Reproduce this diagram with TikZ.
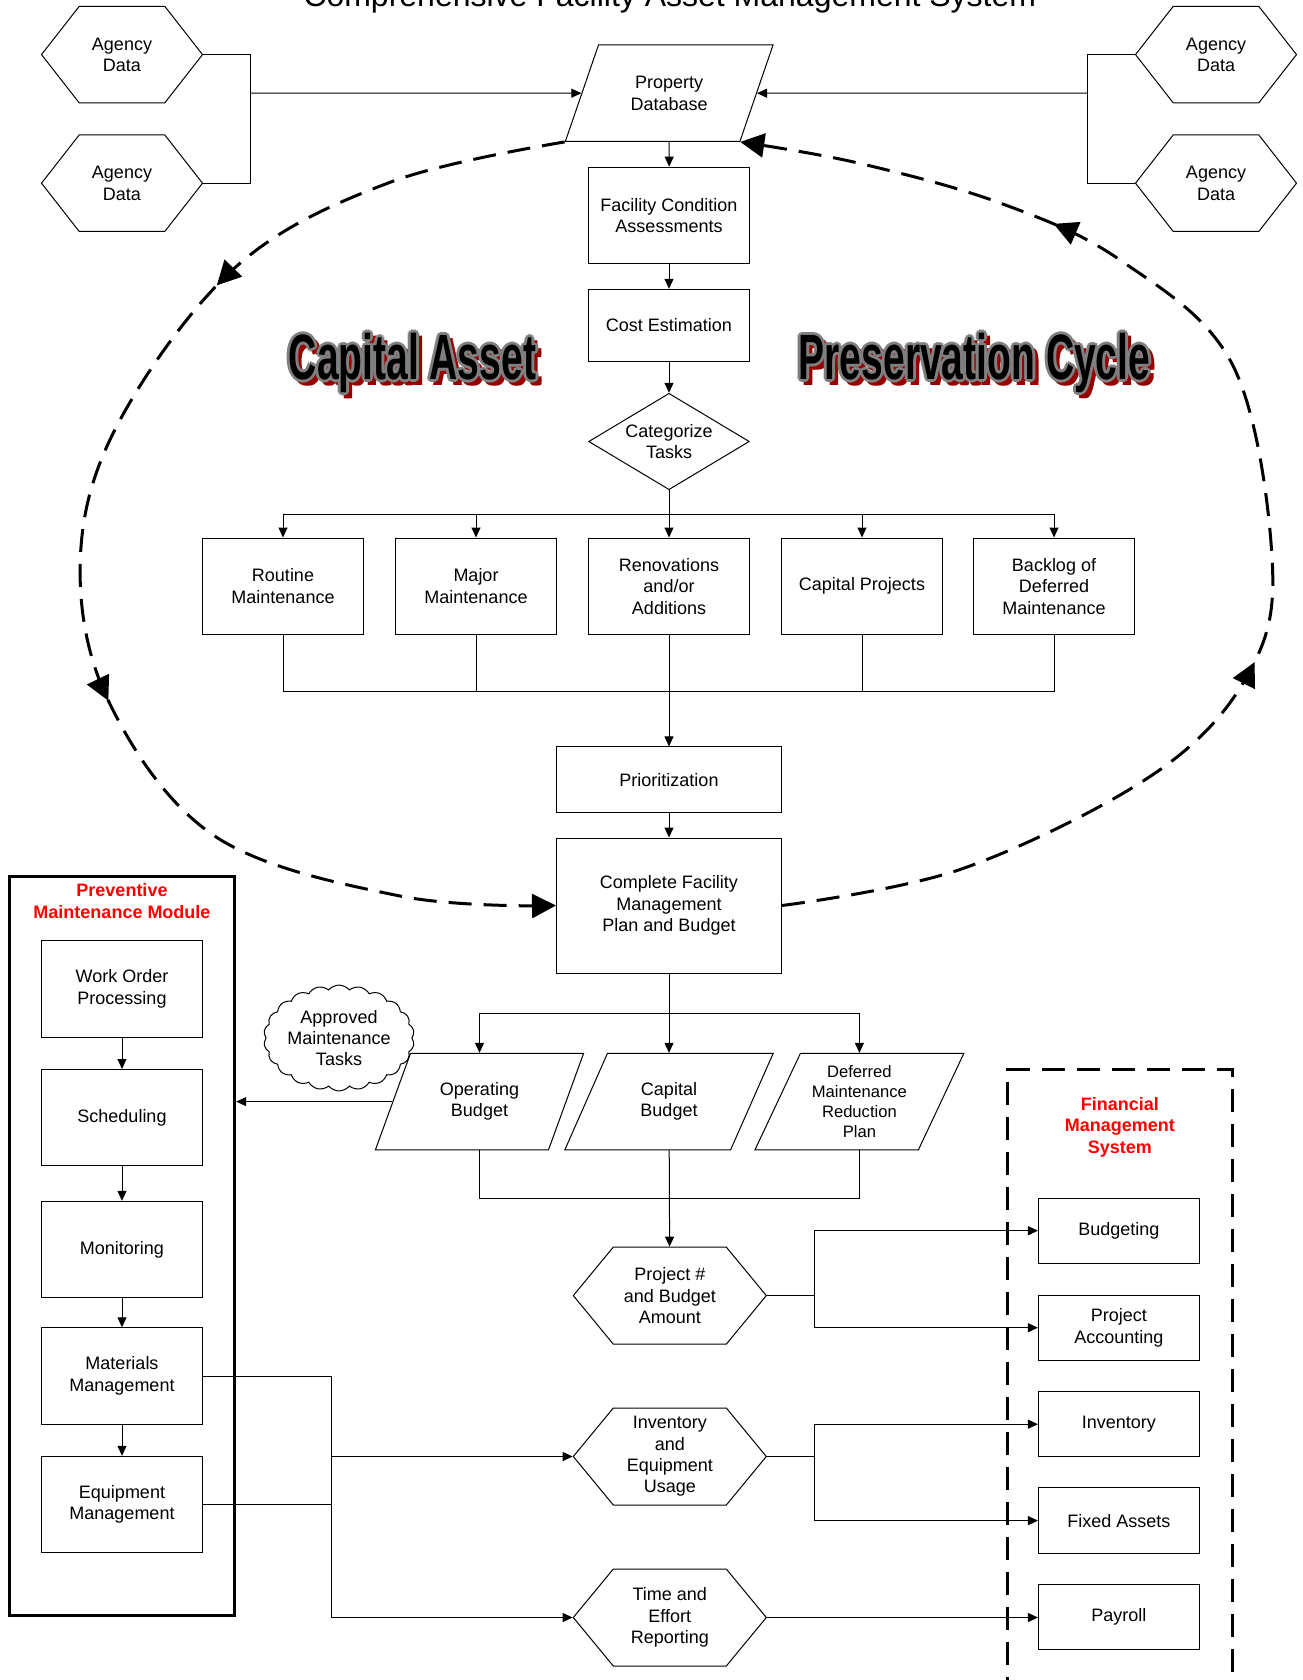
\documentclass[tikz,border=0pt]{standalone}
\usepackage{fontspec}
\setmainfont{Liberation Sans}
\usepackage{graphicx}
\usetikzlibrary{arrows.meta,shapes.geometric,shapes.symbols,decorations.markings}

\definecolor{fmsred}{RGB}{255,0,0}
\definecolor{shadowred}{RGB}{150,0,0}
\definecolor{outlinegray}{RGB}{128,128,128}

\newcommand{\boxfont}{\fontsize{9}{10.7}\selectfont}
\newcommand{\cycfont}{\fontsize{32}{36}\selectfont\bfseries}

% cycle title: red shadow, grey outline, black letters
\newcommand{\cyctitle}[3]{%
  \foreach \dx/\dy in {1.5/-3,3/-1.5,3/-3}
    \node[cyclabel, text=shadowred, xshift=\dx pt, yshift=\dy pt] at (#2) {\scalebox{0.61}[1]{#3}};
  \foreach \dx/\dy in {-1.5/0,1.5/0,0/1.5,0/-1.5,-1/-1,1/1,-1/1,1/-1}
    \node[cyclabel, text=outlinegray, xshift=\dx pt, yshift=\dy pt] at (#2) {\scalebox{0.61}[1]{#3}};
  \node[cyclabel] (#1) at (#2) {\scalebox{0.61}[1]{#3}};}

\begin{document}
\begin{tikzpicture}[x=0.5pt, y=-0.5pt, font=\boxfont, line width=0.5pt,
    arr/.style={-{Triangle[length=5pt,width=4.5pt]}},
    procbox/.style={draw, rectangle, minimum width=80.35pt, minimum height=48.2pt, align=center, inner sep=1pt},
    finbox/.style={procbox, minimum height=32.7pt},
    widebox/.style={procbox, minimum width=112.5pt},
    hexbox/.style={draw, signal, signal to=west and east, signal pointer angle=104, minimum width=80.5pt, minimum height=48.25pt, align=center, inner sep=1pt},
    datahex/.style={hexbox, signal pointer angle=101, minimum width=96.5pt, minimum height=48.5pt},
    para/.style={draw, trapezium, trapezium left angle=63.4, trapezium right angle=116.6, trapezium stretches=true, minimum width=104.5pt, minimum height=48.25pt, align=center, inner sep=1pt},
    decision/.style={draw, diamond, aspect=1.67, minimum width=80.35pt, minimum height=48.2pt, align=center, inner sep=0pt},
    cyclabel/.style={font=\cycfont, anchor=base, inner sep=0pt},
    modtitle/.style={text=fmsred, font=\boxfont\bfseries, align=center},
    cyclepath/.style={line width=1.5pt, dash pattern=on 11.5pt off 6pt, -{Triangle[length=12pt,width=12pt]}},
    cyctips/.style 2 args={postaction={decorate}, decoration={markings,
        mark=at position #1 with {\arrow{Triangle[length=12pt,width=12pt]}},
        mark=at position #2 with {\arrow{Triangle[length=12pt,width=12pt]}}}},
    findash/.style={line width=1.5pt, dash pattern=on 11.5pt off 6pt}]
\useasboundingbox (0,0) rectangle (1302,1680);

\node[font=\fontsize{16}{19}\selectfont, anchor=base] (title) at (669.8,7) {Comprehensive Facility Asset Management System};

% data sources
\node[hexbox] (ag1) at (122,54.6) {Agency\\Data};
\node[hexbox] (ag2) at (122,183.2) {Agency\\Data};
\node[hexbox] (ag3) at (1216,54.6) {Agency\\Data};
\node[hexbox] (ag4) at (1216,183.2) {Agency\\Data};
\node[para] (pd) at (669.2,93.2) {Property\\Database};
\coordinate (jl) at (250.8,93.2);
\coordinate (jr) at (1087.7,93.2);
\draw (ag1.east) -| (jl);
\draw (ag2.east) -| (jl);
\draw[arr] (jl) -- (pd);
\draw (ag3.west) -| (jr);
\draw (ag4.west) -| (jr);
\draw[arr] (jr) -- (pd);

% assessment chain
\node[procbox] (fca) at (669,215.4) {Facility Condition\\Assessments};
\node[procbox, minimum height=35.9pt] (ce) at (669,325.2) {Cost Estimation};
\node[decision] (cat) at (669,441.5) {Categorize\\Tasks};
\draw[arr] (pd.south) -- (fca);
\draw[arr] (fca) -- (ce);
\draw[arr] (ce) -- (cat);

\node[procbox] (rm) at (283,586.2) {Routine\\Maintenance};
\node[procbox] (mm) at (476,586.2) {Major\\Maintenance};
\node[procbox] (ren) at (669,586.2) {Renovations\\and/or\\Additions};
\node[procbox] (cp) at (862,586.2) {Capital Projects};
\node[procbox] (bl) at (1054,586.2) {Backlog of\\Deferred\\Maintenance};
\coordinate (bus1) at (669,514.4);
\coordinate (bus2) at (669,691.2);
\draw (cat.south) -- (bus1);
\foreach \n in {rm,mm,ren,cp,bl}
  \draw[arr] (bus1) -| (\n.north);
\foreach \n in {rm,mm,cp,bl}
  \draw (\n.south) |- (bus2);

\node[widebox, minimum height=32.7pt] (prio) at (669,779.6) {Prioritization};
\node[widebox, minimum height=67.5pt] (cfm) at (669,905.5) {Complete Facility\\Management\\Plan and Budget};
\draw[arr] (ren.south) -- (prio);
\draw[arr] (prio) -- (cfm);

\cyctitle{ca}{412.5,379}{Capital Asset}
\cyctitle{pc}{974.5,379}{Preservation Cycle}

% preservation cycle
\draw[cyclepath, cyctips={0.28}{0.615}] plot[smooth, tension=0.6] coordinates {(pd.bottom left corner) (391.7,181.7) (238,265) (120,420) (80.4,557) (108,700) (214.3,835.8) (400,896) (cfm.west)};
\draw[cyclepath, cyctips={0.39}{0.77}] plot[smooth, tension=0.6] coordinates {(cfm.east) (964.4,868) (1157.3,771.6) (1250.6,669.8) (1272,557) (1232.3,364.3) (1120,260) (1000,203) (858,163) (pd.bottom right corner)};

% budgets
\node[para] (ob) at (479.5,1101.6) {Operating\\Budget};
\node[para] (cb) at (669,1101.6) {Capital\\Budget};
\node[para, font=\fontsize{8.3}{10}\selectfont] (dm) at (859.4,1101.6) {Deferred\\Maintenance\\Reduction\\Plan};
\node[cloud, draw, cloud puffs=22, cloud puff arc=100, aspect=1.5, minimum width=69pt, minimum height=46.5pt, align=center, inner sep=0pt] (amt) at (339,1038) {Approved\\Maintenance\\Tasks};
\coordinate (bus3) at (669,1013.7);
\coordinate (bus4) at (669,1198);
\draw (cfm.south) -- (bus3);
\foreach \n in {ob,cb,dm}
  \draw[arr] (bus3) -| (\n);
\draw (ob) |- (bus4);
\draw (dm) |- (bus4);

% preventive maintenance module
\node[draw, line width=1.5pt, minimum width=112.55pt, minimum height=369.2pt] (pm) at (122.15,1245.8) {};
\node[modtitle] (pmt) at (122,901) {Preventive\\Maintenance Module};
\node[procbox] (wo) at (122,989) {Work Order\\Processing};
\node[procbox] (sch) at (122,1117.7) {Scheduling};
\node[procbox] (mon) at (122,1249.5) {Monitoring};
\node[procbox] (mat) at (122,1376) {Materials\\Management};
\node[procbox] (eq) at (122,1504.5) {Equipment\\Management};
\draw[arr] (wo) -- (sch);
\draw[arr] (sch) -- (mon);
\draw[arr] (mon) -- (mat);
\draw[arr] (mat) -- (eq);
\draw[arr] (ob.west) -- (ob.west -| pm.east);

% outputs
\node[datahex] (pj) at (669.8,1295.6) {Project \#\\and Budget\\Amount};
\node[datahex] (ie) at (669.8,1456.5) {Inventory\\and\\Equipment\\Usage};
\node[datahex] (te) at (669.8,1617.5) {Time and\\Effort\\Reporting};
\draw[arr] (cb) -- (pj);
\coordinate (jt) at (331,1617.5);
\draw (mat.east) -| (jt);
\draw (eq.east) -- (eq.east -| jt);
\draw[arr] (jt |- ie.west) -- (ie.west);
\draw[arr] (jt) -- (te.west);

% financial management system
\draw[findash] (1007.3,1700) -- (1007.3,1069.5) -- (1232.3,1069.5) -- (1232.3,1700);
\node[modtitle] (fmt) at (1119.8,1127.3) {Financial\\Management\\System};
\node[finbox] (bud) at (1118.8,1230.7) {Budgeting};
\node[finbox] (pa) at (1118.8,1327.7) {Project\\Accounting};
\node[finbox] (inv) at (1118.8,1424.2) {Inventory};
\node[finbox] (fa) at (1118.8,1520.6) {Fixed Assets};
\node[finbox] (pay) at (1118.8,1617) {Payroll};
\coordinate (jp) at (814.4,1295.6);
\coordinate (ji) at (814.4,1456.5);
\draw (pj.east) -- (jp);
\draw[arr] (jp) |- (bud.west);
\draw[arr] (jp) |- (pa.west);
\draw (ie.east) -- (ji);
\draw[arr] (ji) |- (inv.west);
\draw[arr] (ji) |- (fa.west);
\draw[arr] (te.east) -- (te.east -| pay.west);
\end{tikzpicture}
\end{document}
